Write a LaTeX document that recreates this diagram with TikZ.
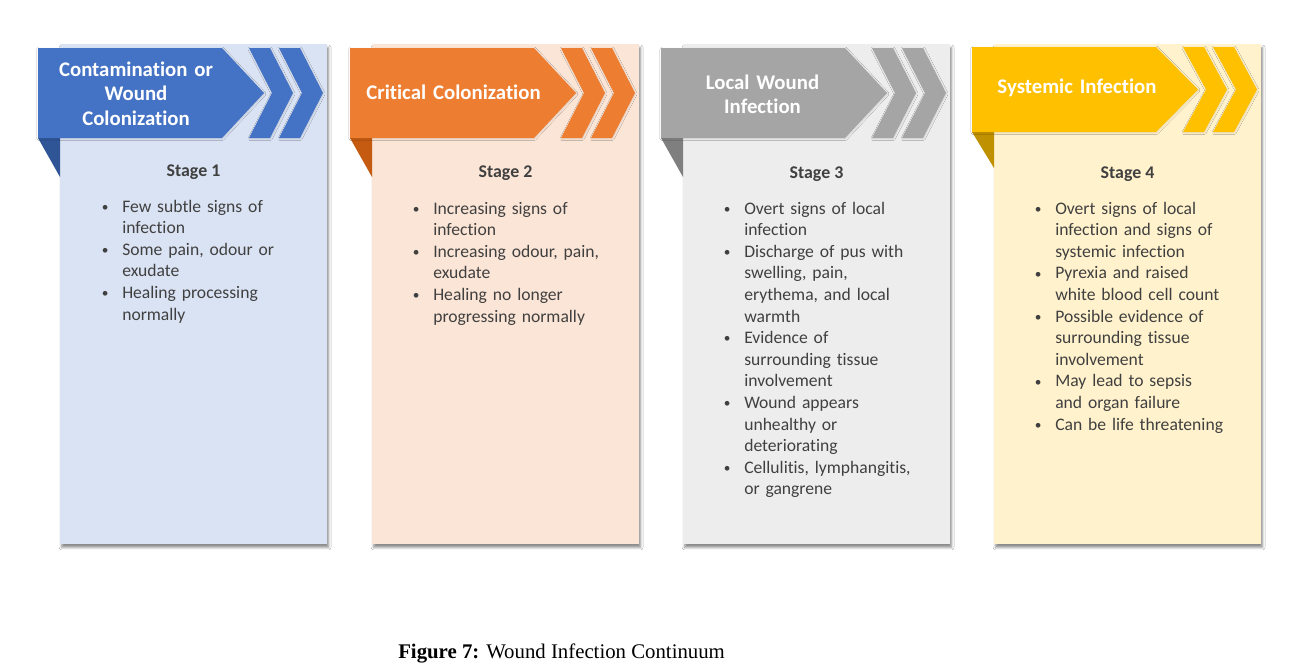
\documentclass[tikz,border=0pt]{standalone}
\usepackage{fontspec}
\setmainfont{Carlito}[Ligatures=NoCommon]
\newfontfamily\capfont{Liberation Serif}
\usetikzlibrary{shadows.blur}

\definecolor{blueMain}{HTML}{4472C4}
\definecolor{blueDark}{HTML}{2F5597}
\definecolor{blueLight}{HTML}{DAE3F3}
\definecolor{orangeMain}{HTML}{ED7D31}
\definecolor{orangeDark}{HTML}{C55A11}
\definecolor{orangeLight}{HTML}{FBE5D6}
\definecolor{grayMain}{HTML}{A5A5A5}
\definecolor{grayDark}{HTML}{7F7F7F}
\definecolor{grayLight}{HTML}{EDEDED}
\definecolor{goldMain}{HTML}{FFC000}
\definecolor{goldDark}{HTML}{BF9000}
\definecolor{goldLight}{HTML}{FFF2CC}
\definecolor{bodytext}{HTML}{404040}

% bullet hung in the left margin of a list line
\newcommand\bulletmark{\leavevmode\llap{\makebox[0pt][c]{\raisebox{0.6pt}{\fontsize{10pt}{10pt}\selectfont\textbullet}}\hspace{12.75pt}}}

% one stage card: panel, corner fold, banner arrow and two chevrons
% #1 x offset, #2 banner top, #3 banner middle, #4 banner bottom,
% #5 fold bottom, #6 main colour, #7 dark colour, #8 panel colour
\newcommand\stagecard[8]{%
  \begin{scope}[shift={(#1,0)}]
    \fill[#8, panelshadow] (60,44) rectangle (327,544);
    \fill[#7] (38,#4) -- (60,#4) -- (60,#5) -- cycle;
    \fill[#6, bannershadow] (38,#2) -- (222,#2) -- (264,#3) -- (222,#4) -- (38,#4) -- cycle;
    \fill[#6, bannershadow] (249,#2) -- (270,#2) -- (293,#3) -- (270,#4) -- (249,#4) -- (272,#3) -- cycle;
    \fill[#6, bannershadow] (279,#2) -- (300,#2) -- (323,#3) -- (300,#4) -- (279,#4) -- (302,#3) -- cycle;
  \end{scope}}

\tikzset{
  panelshadow/.style={blur shadow={shadow xshift=1.2pt, shadow yshift=-2.6pt,
      shadow blur radius=1.8pt, shadow opacity=45}},
  bannershadow/.style={blur shadow={shadow xshift=0.4pt, shadow yshift=-0.6pt,
      shadow blur radius=1.2pt, shadow opacity=12}},
  titletext/.style={anchor=base, text width=190pt, align=center, inner sep=0pt,
      text=white, font=\bfseries\fontsize{15.6pt}{18.6pt}\selectfont},
  stagetext/.style={anchor=base, inner sep=0pt, text=bodytext,
      font=\bfseries\fontsize{13.4pt}{16.2pt}\selectfont},
  listtext/.style={anchor=base west, text width=160pt, align=left, inner sep=0pt,
      text=bodytext, font=\fontsize{13.2pt}{16.2pt}\selectfont},
}

\begin{document}
\begin{tikzpicture}[x=0.75pt, y=-0.75pt]
  \useasboundingbox[fill=white] (0,0) rectangle (1292,671);

  \stagecard{0}{48}{93}{138}{177}{blueMain}{blueDark}{blueLight}
  \stagecard{312}{48}{93}{138}{177}{orangeMain}{orangeDark}{orangeLight}
  \stagecard{623}{48}{93}{138}{177}{grayMain}{grayDark}{grayLight}
  \stagecard{934}{47}{89.5}{132}{168}{goldMain}{goldDark}{goldLight}

  % banner titles
  \node[titletext] (t1) at (136,76) {Contamination or\\ Wound\\ Colonization};
  \node[titletext] (t2) at (453.5,99) {Critical Colonization};
  \node[titletext] (t3) at (762.5,89) {Local Wound\\ Infection};
  \node[titletext] (t4) at (1077,93) {Systemic Infection};

  % stage labels
  \node[stagetext] (s1) at (193.5,176) {Stage 1};
  \node[stagetext] (s2) at (505.5,177) {Stage 2};
  \node[stagetext] (s3) at (816.5,178) {Stage 3};
  \node[stagetext] (s4) at (1127.5,178) {Stage 4};

  % signs at each stage
  \node[listtext] (l1) at (122,212) {\bulletmark Few subtle signs of\\ infection\\
    \bulletmark Some pain, odour or\\ exudate\\
    \bulletmark Healing processing\\ normally};
  \node[listtext] (l2) at (433,214) {\bulletmark Increasing signs of\\ infection\\
    \bulletmark Increasing odour, pain,\\ exudate\\
    \bulletmark Healing no longer\\ progressing normally};
  \node[listtext] (l3) at (744,214) {\bulletmark Overt signs of local\\ infection\\
    \bulletmark Discharge of pus with\\ swelling, pain,\\ erythema, and local\\ warmth\\
    \bulletmark Evidence of\\ surrounding tissue\\ involvement\\
    \bulletmark Wound appears\\ unhealthy or\\ deteriorating\\
    \bulletmark Cellulitis, lymphangitis,\\ or gangrene};
  \node[listtext] (l4) at (1055,214) {\bulletmark Overt signs of local\\ infection and signs of\\ systemic infection\\
    \bulletmark Pyrexia and raised\\ white blood cell count\\
    \bulletmark Possible evidence of\\ surrounding tissue\\ involvement\\
    \bulletmark May lead to sepsis\\ and organ failure\\
    \bulletmark Can be life threatening};

  % caption
  \node[anchor=base west, inner sep=0pt, font=\capfont\fontsize{15.6pt}{18pt}\selectfont]
    (cap) at (398,658) {\textbf{Figure 7:} Wound Infection Continuum};
\end{tikzpicture}
\end{document}
